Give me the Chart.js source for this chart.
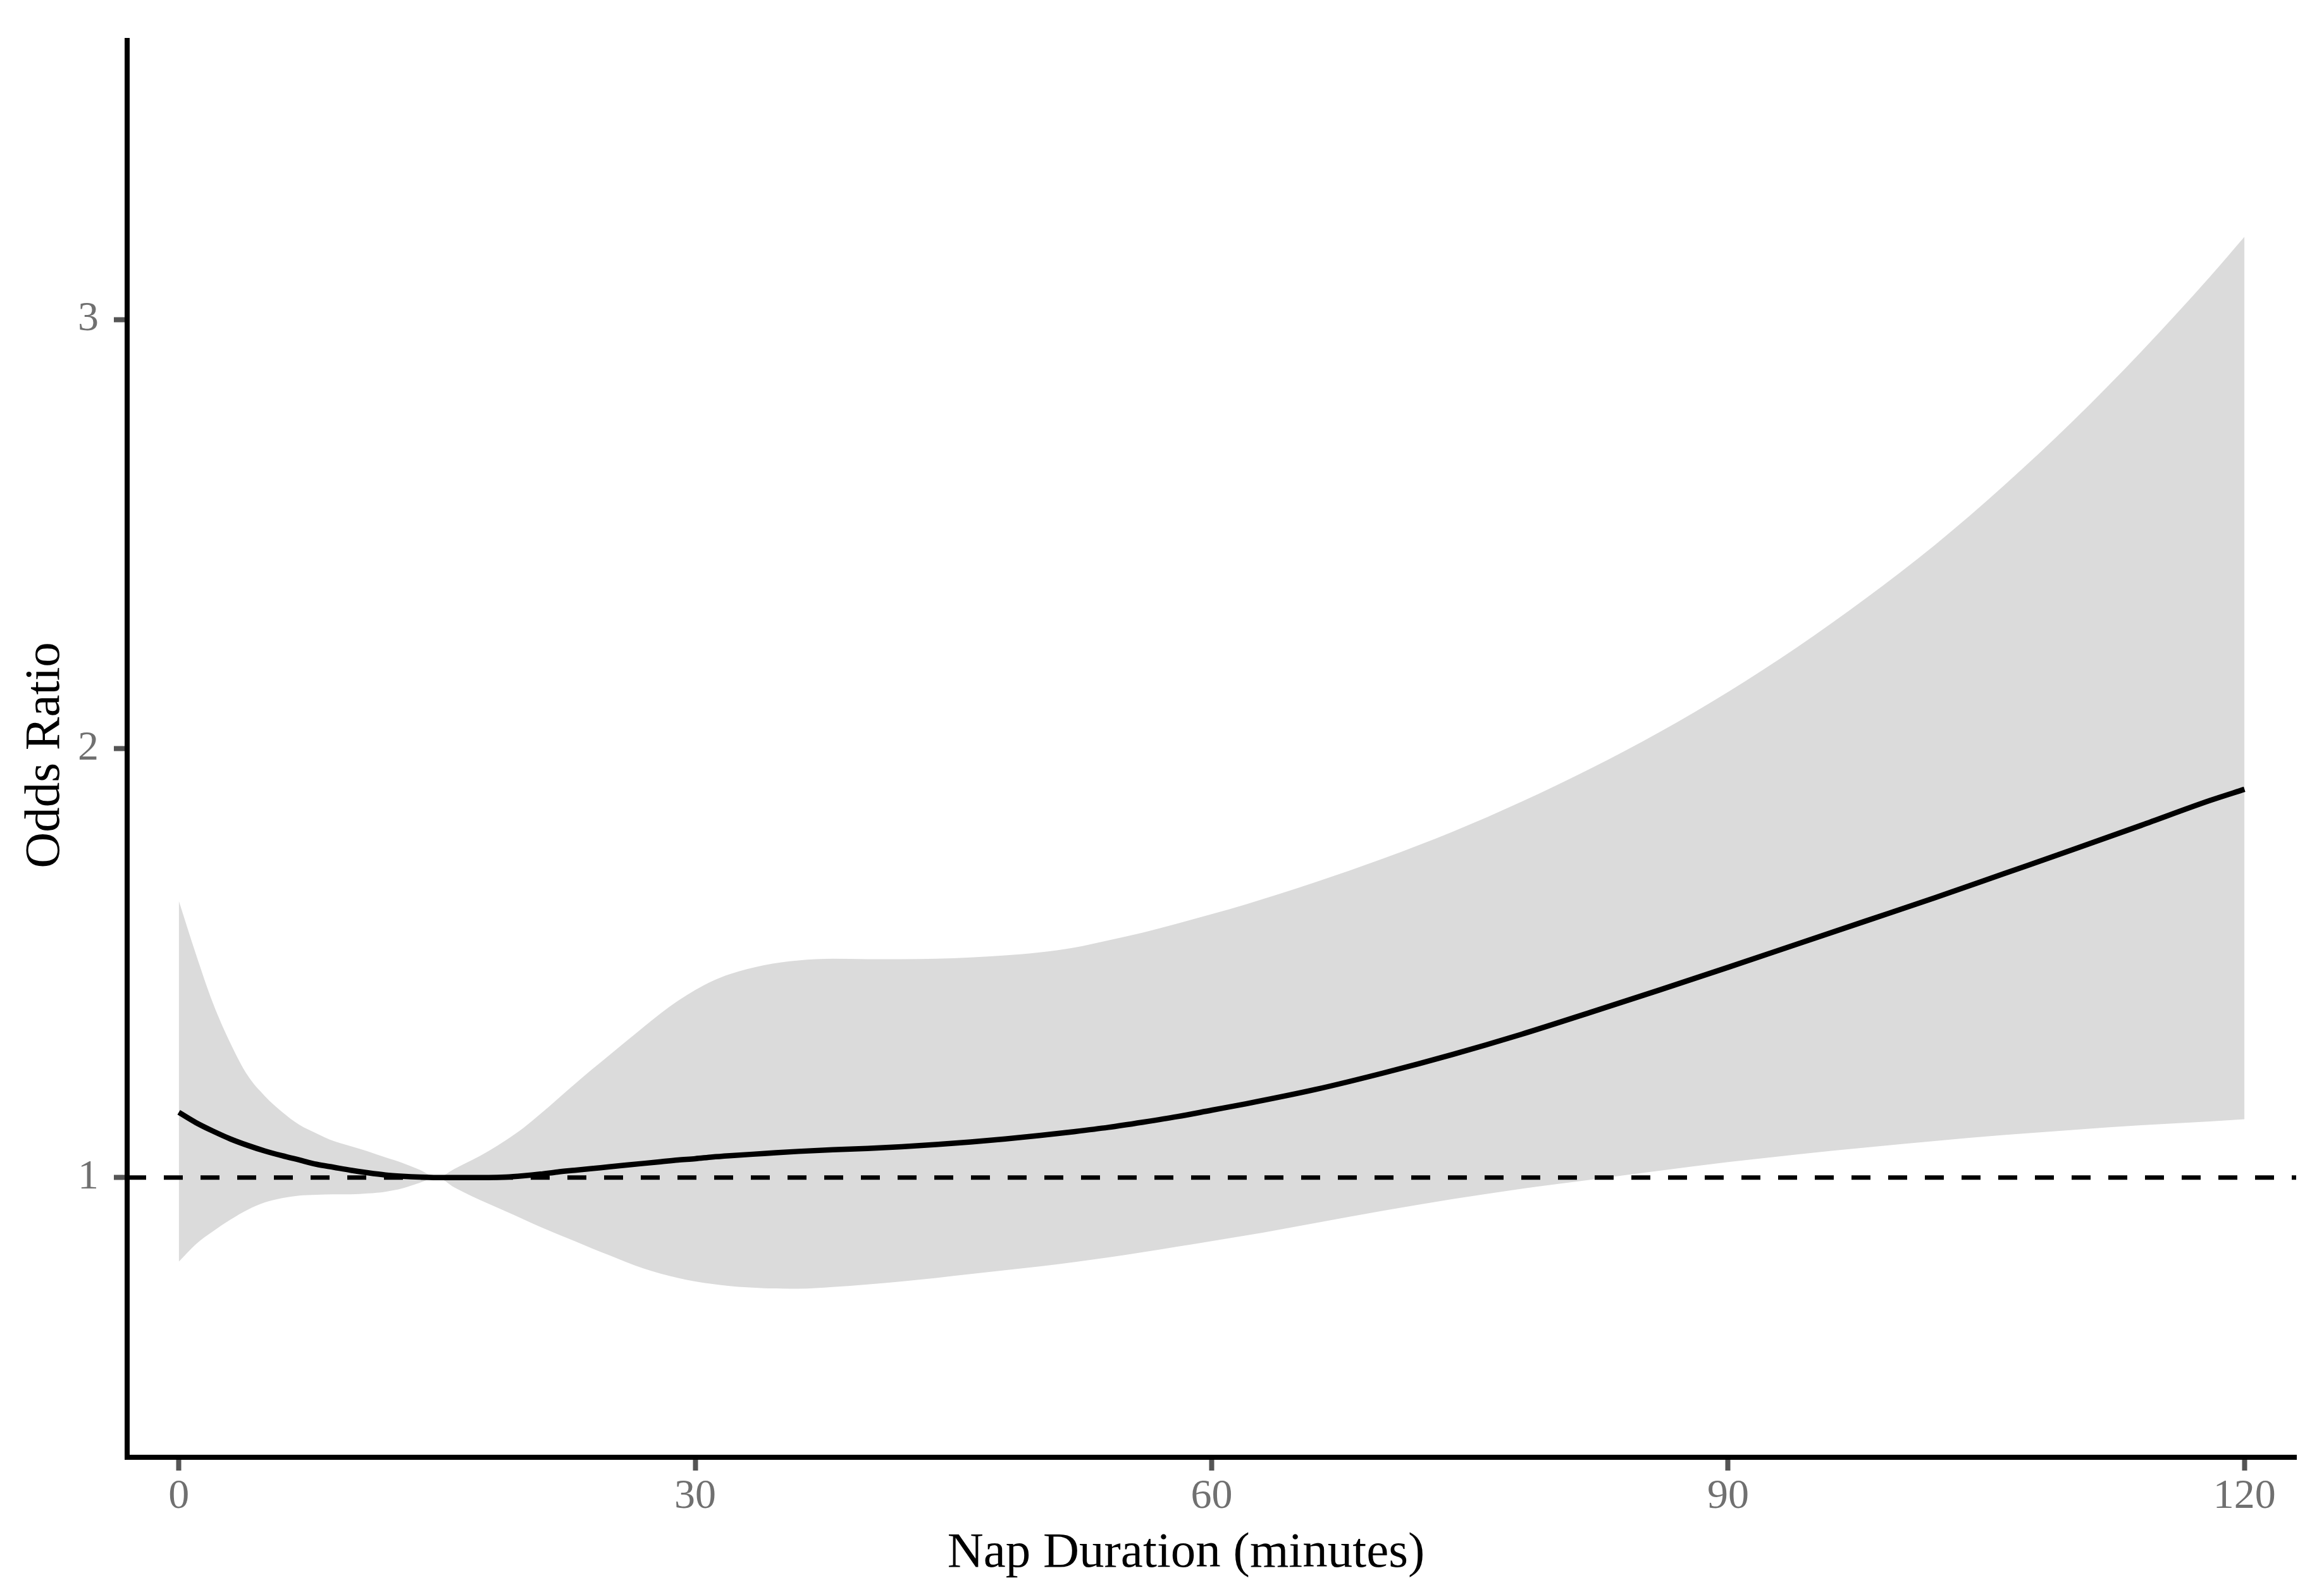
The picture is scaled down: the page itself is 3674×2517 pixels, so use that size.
<!DOCTYPE html>
<html>
<head>
<meta charset="utf-8">
<style>
  html, body { margin: 0; padding: 0; background: #ffffff; }
  canvas { display: block; }
</style>
<script src="https://cdn.jsdelivr.net/npm/chart.js@4.4.1/dist/chart.umd.min.js"></script>
</head>
<body>
<canvas id="c" width="3674" height="2517"></canvas>
<script>
// Nap duration (minutes)
const napMinutes = [0,1,2,3,4,5,6,7,8,9,10,11,12,13,14,15,16,17,18,19,20,21,22,23,24,25,26,27,28,29,30,
  31,32,34,36,38,40,42,44,46,48,50,52,54,56,58,60,62,66,70,74,78,82,86,90,94,98,102,106,110,114,118,120];
// Odds ratio (fitted curve)
const oddsRatio = [1.152,1.128,1.108,1.090,1.075,1.062,1.051,1.041,1.031,1.024,1.017,1.011,1.006,1.003,1.001,1.000,1.000,1.000,1.000,1.001,1.004,1.008,1.013,1.017,1.021,1.025,1.029,1.033,1.037,1.041,1.044,
  1.048,1.051,1.056,1.061,1.065,1.068,1.072,1.077,1.083,1.090,1.098,1.107,1.117,1.129,1.142,1.157,1.172,1.205,1.244,1.287,1.334,1.385,1.437,1.490,1.544,1.598,1.652,1.708,1.764,1.821,1.879,1.905];
// Upper 95% CI
const upperCI = [1.645,1.520,1.405,1.313,1.238,1.190,1.153,1.123,1.103,1.085,1.073,1.061,1.047,1.034,1.018,1.000,1.020,1.040,1.062,1.087,1.115,1.148,1.183,1.218,1.252,1.285,1.318,1.351,1.383,1.412,1.437,
  1.458,1.474,1.495,1.506,1.510,1.509,1.509,1.510,1.513,1.518,1.525,1.536,1.553,1.571,1.592,1.614,1.637,1.688,1.744,1.806,1.876,1.953,2.038,2.132,2.236,2.350,2.474,2.612,2.762,2.925,3.100,3.193];
// Lower 95% CI
const lowerCI = [0.804,0.845,0.875,0.902,0.925,0.942,0.952,0.958,0.960,0.961,0.961,0.963,0.967,0.975,0.988,1.000,0.977,0.957,0.939,0.921,0.903,0.885,0.868,0.852,0.835,0.819,0.803,0.788,0.776,0.766,0.758,
  0.752,0.747,0.742,0.741,0.745,0.751,0.758,0.766,0.775,0.784,0.793,0.803,0.814,0.826,0.839,0.852,0.865,0.894,0.923,0.950,0.974,0.995,1.016,1.036,1.054,1.070,1.085,1.099,1.111,1.122,1.131,1.136];
// Reference line (OR = 1) across the x range
const refX = [-3, 123];
const refY = [1, 1];
// Axis ticks and ranges
const xTicks = [0, 30, 60, 90, 120];
const yTicks = [1, 2, 3];
const xRange = [-3, 123];
const yRange = [0.348, 3.651];
const xTitle = 'Nap Duration (minutes)';
const yTitle = 'Odds Ratio';

const toPts = (xs, ys) => xs.map((x, i) => ({ x: x, y: ys[i] }));

const FONT = '"Liberation Serif", "Times New Roman", serif';

// Axis titles (placed like the ggplot original)
const axisTitles = {
  id: 'axisTitles',
  afterDraw(chart) {
    const ctx = chart.ctx;
    ctx.save();
    ctx.fillStyle = '#000000';
    ctx.font = '79px ' + FONT;
    ctx.textAlign = 'center';
    ctx.textBaseline = 'alphabetic';
    ctx.fillText(xTitle, 1875, 2477);
    ctx.translate(93, 1194);
    ctx.rotate(-Math.PI / 2);
    ctx.fillText(yTitle, 0, 0);
    ctx.restore();
  }
};

new Chart(document.getElementById('c'), {
  type: 'line',
  data: {
    datasets: [
      {
        label: 'lower',
        data: toPts(napMinutes, lowerCI),
        borderWidth: 0,
        borderColor: 'rgba(0,0,0,0)',
        pointRadius: 0,
        fill: false,
        cubicInterpolationMode: 'monotone',
        order: 3
      },
      {
        label: 'upper',
        data: toPts(napMinutes, upperCI),
        borderWidth: 0,
        borderColor: 'rgba(0,0,0,0)',
        backgroundColor: '#DBDBDB',
        pointRadius: 0,
        fill: 0,
        cubicInterpolationMode: 'monotone',
        order: 3
      },
      {
        label: 'ref',
        data: toPts(refX, refY),
        borderColor: '#000000',
        borderWidth: 7,
        borderDash: [30, 28],
        pointRadius: 0,
        fill: false,
        order: 2
      },
      {
        label: 'OR',
        data: toPts(napMinutes, oddsRatio),
        borderColor: '#000000',
        borderWidth: 8.5,
        pointRadius: 0,
        fill: false,
        cubicInterpolationMode: 'monotone',
        borderCapStyle: 'butt',
        order: 1
      }
    ]
  },
  options: {
    responsive: false,
    devicePixelRatio: 1,
    animation: false,
    events: [],
    layout: { padding: { top: 45, right: 44, left: 0, bottom: 0 } },
    plugins: {
      legend: { display: false },
      tooltip: { enabled: false },
      filler: { propagate: false }
    },
    scales: {
      x: {
        type: 'linear',
        min: xRange[0],
        max: xRange[1],
        afterBuildTicks: (s) => { s.ticks = xTicks.map(v => ({ value: v })); },
        afterFit: (s) => { s.height = 213; },
        border: { display: true, color: '#000000', width: 8 },
        grid: { display: true, drawOnChartArea: false, drawTicks: true, tickLength: 21, tickWidth: 8, tickColor: '#555555' },
        ticks: { padding: 2, color: '#707070', font: { family: FONT, size: 66 }, maxRotation: 0, autoSkip: false },
        title: { display: false }
      },
      y: {
        type: 'linear',
        min: yRange[0],
        max: yRange[1],
        afterBuildTicks: (s) => { s.ticks = yTicks.map(v => ({ value: v })); },
        afterFit: (s) => { s.width = 201; },
        border: { display: true, color: '#000000', width: 8 },
        grid: { display: true, drawOnChartArea: false, drawTicks: true, tickLength: 21, tickWidth: 8, tickColor: '#555555' },
        ticks: { padding: 24, color: '#707070', font: { family: FONT, size: 66 }, autoSkip: false },
        title: { display: false }
      }
    }
  },
  plugins: [axisTitles]
});
</script>
</body>
</html>
